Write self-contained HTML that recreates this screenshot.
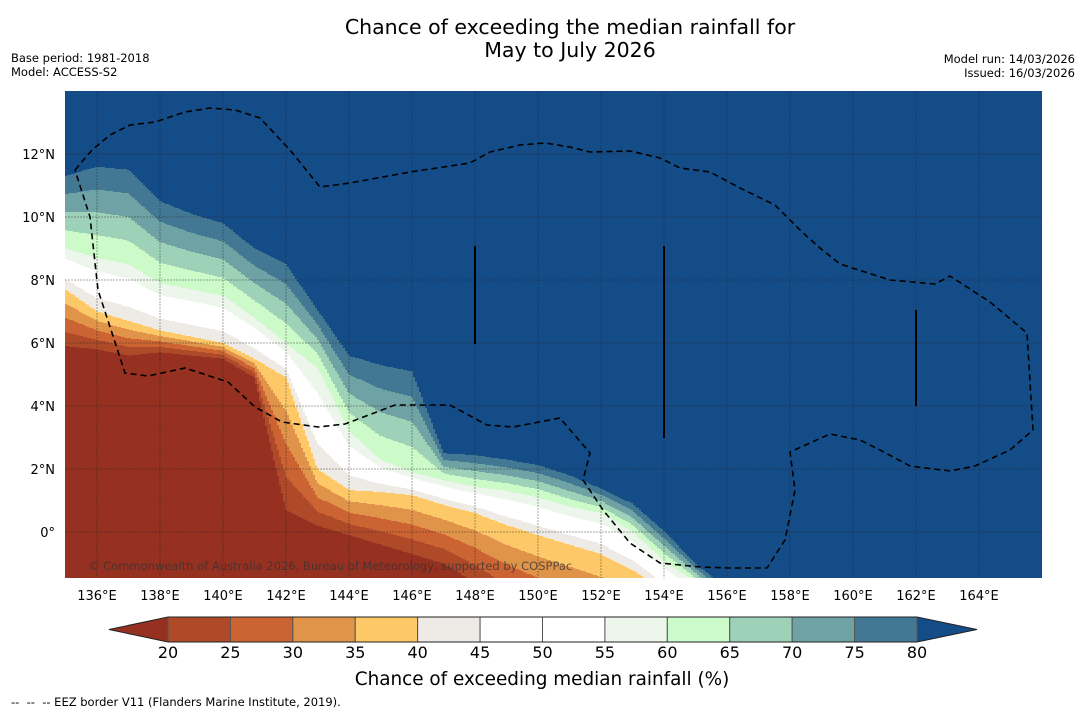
<!DOCTYPE html>
<html><head><meta charset="utf-8"><style>
html,body{margin:0;padding:0;background:#fff;}
svg{display:block;font-family:"DejaVu Sans","Liberation Sans",sans-serif;}
</style></head><body>
<svg id="chart" width="1085" height="713" viewBox="0 0 1085 713" xmlns="http://www.w3.org/2000/svg">
<defs><clipPath id="mapclip"><rect x="65" y="91" width="977" height="487"/></clipPath></defs>
<text x="570" y="34" text-anchor="middle" font-size="20.5" fill="#000">Chance of exceeding the median rainfall for</text>
<text x="570" y="57" text-anchor="middle" font-size="20.5" fill="#000">May to July 2026</text>
<text x="11" y="62" font-size="11.5">Base period: 1981-2018</text>
<text x="11" y="76" font-size="11.5">Model: ACCESS-S2</text>
<text x="1075" y="63" font-size="11.5" text-anchor="end">Model run: 14/03/2026</text>
<text x="1075" y="77" font-size="11.5" text-anchor="end">Issued: 16/03/2026</text>
<g id="field" clip-path="url(#mapclip)" shape-rendering="crispEdges"></g>
<g id="grid" clip-path="url(#mapclip)"></g>
<g id="eez" clip-path="url(#mapclip)"></g>
<text x="88" y="570" font-size="11.5" fill="#333" fill-opacity="0.75">© Commonwealth of Australia 2026, Bureau of Meteorology, supported by COSPPac</text>
<g id="xticks"></g>
<g id="yticks"></g>
<g id="cbar"></g>
<text x="542" y="685" text-anchor="middle" font-size="18.4">Chance of exceeding median rainfall (%)</text>
<text x="11" y="706" font-size="11.5" xml:space="preserve">--  --  -- EEZ border V11 (Flanders Marine Institute, 2019).</text>
</svg>
<script>
// Contour latitudes per longitude (135E..166E)
const lons = [135,136,137,138,139,140,141,142,143,144,145,146,147,148,149,150,151,152,153,154,155,156,157,158,159,160,161,162,163,164,165,166];
const lat80 = [11.3,11.6,11.5,10.5,10.1,9.8,9.0,8.5,7.05,5.6,5.3,5.1,2.5,2.44,2.3,2.13,1.8,1.38,0.9,0.03,-1.0,-1.8,-2.8,-2.8,-2.8,-2.8,-2.8,-2.8,-2.8,-2.8,-2.8,-2.8];
const lat60 = [9.0,8.7,8.5,7.9,7.7,7.5,6.8,6.0,5.2,3.2,2.3,1.9,1.65,1.43,1.3,1.1,0.8,0.6,0.0,-0.9,-1.6,-2.4,-3.4,-3.4,-3.4,-3.4,-3.4,-3.4,-3.4,-3.4,-3.4,-3.4];
const lat40 = [7.7,7.0,6.7,6.4,6.2,6.0,5.5,4.9,2.0,1.33,1.27,1.17,0.86,0.6,0.22,-0.1,-0.4,-0.7,-1.2,-1.9,-2.6,-3.2,-4.0,-4.0,-4.0,-4.0,-4.0,-4.0,-4.0,-4.0,-4.0,-4.0];
const lat20 = [5.9,5.8,5.6,5.7,5.6,5.5,4.9,0.7,0.2,-0.1,-0.4,-0.7,-1.0,-1.6,-2.3,-2.8,-3.2,-3.6,-4.0,-4.4,-4.7,-5.0,-5.3,-5.3,-5.3,-5.3,-5.3,-5.3,-5.3,-5.3,-5.3,-5.3];
const levels = [20,25,30,35,40,45,50,55,60,65,70,75,80];
const binColors = ["#963020","#ae4a28","#cb6432","#e0944a","#fdc968","#eeebe6","#ffffff","#ffffff","#ecf6ea","#ccfbc9","#9dd1b8","#6ea2a5","#427894","#144c88"];
const lonTicks = [136,138,140,142,144,146,148,150,152,154,156,158,160,162,164];
const latTicks = [0,2,4,6,8,10,12];

const NS="http://www.w3.org/2000/svg";
const xOf = lon => 65.5 + (lon-135)*31.5;
const yOf = lat => 91 + (14-lat)*31.5;
const lonOfX = x => 135 + (x-65.5)/31.5;
const latOfY = y => 14 - (y-91)/31.5;
function mk(tag, attrs, parent){const e=document.createElementNS(NS,tag);for(const k in attrs)e.setAttribute(k,attrs[k]);parent.appendChild(e);return e;}
function interp(arr, lon){
  let f=(lon-lons[0]); if(f<0)f=0; if(f>lons.length-1)f=lons.length-1;
  const i=Math.min(Math.floor(f),lons.length-2); const t=f-i;
  return arr[i]*(1-t)+arr[i+1]*t;
}
function valueAt(lon,lat){
  const a=interp(lat80,lon),b=interp(lat60,lon),c=interp(lat40,lon),d=interp(lat20,lon);
  if(lat>=a) return 80+(lat-a)*5;
  if(lat>=b) return 60+20*(lat-b)/Math.max(a-b,1e-6);
  if(lat>=c) return 40+20*(lat-c)/Math.max(b-c,1e-6);
  if(lat>=d) return 20+20*(lat-d)/Math.max(c-d,1e-6);
  return 20-(d-lat)*5;
}
function binOf(v){let i=Math.floor((v-20)/5)+1; if(v<20)i=0; return Math.max(0,Math.min(13,i));}

const field=document.getElementById('field');
const colW=2;
for(let x=65;x<1042;x+=colW){
  const lon=lonOfX(x+colW/2);
  let runStart=91, runBin=binOf(valueAt(lon,latOfY(91.5)));
  for(let y=92;y<=578;y++){
    const b = y<578 ? binOf(valueAt(lon,latOfY(y+0.5))) : -1;
    if(b!==runBin){
      const r=mk('rect',{x:x,y:runStart,width:colW,height:y-runStart,fill:binColors[runBin]},field);
      
      
      runStart=y; runBin=b;
    }
  }
}

// graticule
const grid=document.getElementById('grid');
lonTicks.forEach(l=>{const ln=mk('line',{x1:xOf(l),x2:xOf(l),y1:91,y2:578,stroke:'#222','stroke-opacity':0.4,'stroke-width':1,'stroke-dasharray':'2,1'},grid);

});
latTicks.forEach(l=>{const ln=mk('line',{x1:65,x2:1042,y1:yOf(l),y2:yOf(l),stroke:'#222','stroke-opacity':0.4,'stroke-width':1,'stroke-dasharray':'2,1'},grid);

});

// ticks
const xt=document.getElementById('xticks');
lonTicks.forEach(l=>{const t=mk('text',{x:xOf(l),y:600,'text-anchor':'middle','font-size':13},xt);t.textContent=l+'°E';

});
const yt=document.getElementById('yticks');
latTicks.forEach(l=>{const t=mk('text',{x:55,y:yOf(l)+5,'text-anchor':'end','font-size':13},yt);t.textContent=l===0?'0°':l+'°N';

});

// EEZ borders
const eez=document.getElementById('eez');
const eezPts="75,170 92,150 110,135 130,125 155,122 185,112 210,108 235,110 260,118 290,150 320,187 350,183 410,172 470,163 490,152 520,145 545,143 570,147 590,152 630,151 660,158 680,168 710,172 740,188 775,205 800,230 820,248 840,264 890,280 935,284 950,276 990,302 1027,333 1033,430 1010,450 975,466 950,471 910,466 880,450 860,440 830,434 790,452 795,490 785,540 767,568 730,568 700,567 660,563 630,543 603,510 583,480 590,453 560,418 513,427 487,425 450,405 395,405 345,424 318,427 282,422 255,407 228,382 185,368 148,376 125,373 98,290 90,217 75,170";
const pl=mk('polyline',{points:eezPts,fill:'none',stroke:'#000','stroke-width':1.6,'stroke-dasharray':'6,4'},eez);


[[475,246,344],[664,246,438],[916,310,406]].forEach(s=>{const l=mk('line',{x1:s[0],x2:s[0],y1:s[1],y2:s[2],stroke:'#000','stroke-width':2},eez);

});

// colorbar
const cb=document.getElementById('cbar');
const cbX0=168,cbX1=917,cbY=617,cbH=25;
const cbx=v=>cbX0+(v-20)/60*(cbX1-cbX0);
const lt=mk('polygon',{points:`109,${cbY+cbH/2} ${cbX0},${cbY} ${cbX0},${cbY+cbH}`,fill:binColors[0],stroke:'#222','stroke-width':1},cb);


const rt=mk('polygon',{points:`${cbX1},${cbY} 977,${cbY+cbH/2} ${cbX1},${cbY+cbH}`,fill:binColors[13],stroke:'#222','stroke-width':1},cb);


for(let i=0;i<levels.length-1;i++){
  const r=mk('rect',{x:cbx(levels[i]),y:cbY,width:cbx(levels[i+1])-cbx(levels[i]),height:cbH,fill:binColors[i+1],stroke:'#555','stroke-width':1},cb);
  
  
}
mk('line',{x1:cbX0,x2:cbX1,y1:cbY,y2:cbY,stroke:'#222'},cb);
mk('line',{x1:cbX0,x2:cbX1,y1:cbY+cbH,y2:cbY+cbH,stroke:'#222'},cb);
levels.forEach(v=>{const t=mk('text',{x:cbx(v),y:658,'text-anchor':'middle','font-size':16},cb);t.textContent=v;

});
</script>
</body></html>
